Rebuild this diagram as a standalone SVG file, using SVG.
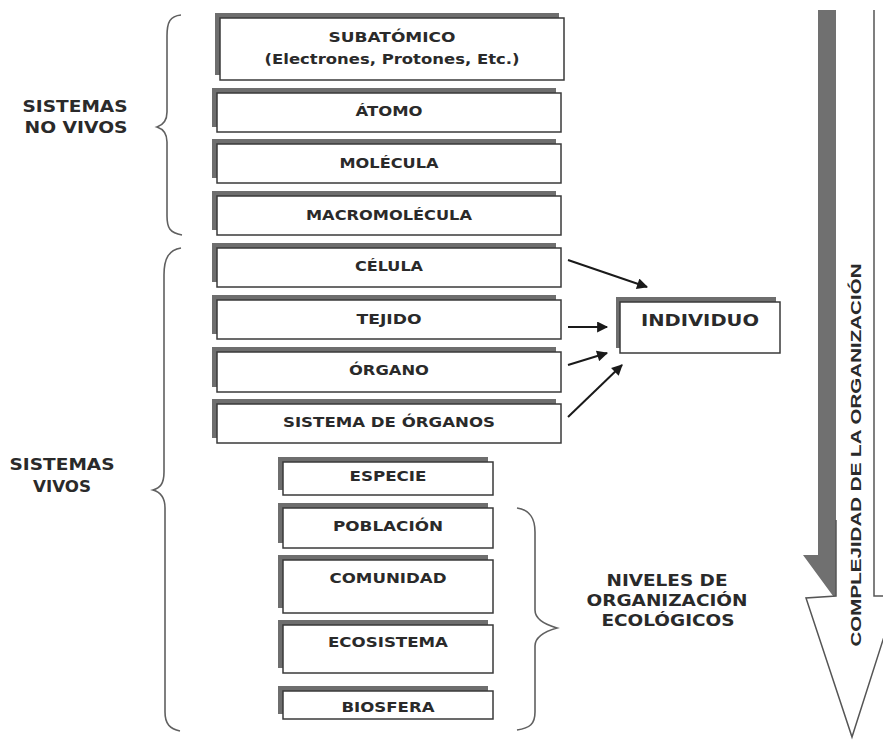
<svg xmlns="http://www.w3.org/2000/svg" width="883" height="741" viewBox="0 0 883 741">
<style>
.sh{fill:#6e6e6e}
.bx{fill:#fff;stroke:#3a3a3a;stroke-width:1.5}
.t{font-family:"DejaVu Sans",Verdana,sans-serif;font-weight:bold;font-size:13.5px;fill:#2a2a2a;text-anchor:middle;dominant-baseline:central}
.lb{font-family:"DejaVu Sans",Verdana,sans-serif;font-weight:bold;font-size:16px;fill:#2a2a2a;text-anchor:middle;dominant-baseline:central}
.br{fill:none;stroke:#606060;stroke-width:1.6}
.cn{stroke:#1a1a1a;stroke-width:2;fill:none}
</style>
<defs>
<marker id="ah" viewBox="0 0 10 10" refX="9" refY="5" markerWidth="6" markerHeight="5.5" orient="auto" markerUnits="strokeWidth">
<path d="M0,0 L10,5 L0,10 Z" fill="#1a1a1a"/>
</marker>
</defs>
<rect width="883" height="741" fill="#fff"/>

<g id="subatomico"><rect class="sh" x="215" y="13" width="344" height="62"/><rect class="bx" x="220" y="18" width="344" height="62"/><text class="t" x="392" y="37" textLength="127" lengthAdjust="spacingAndGlyphs">SUBATÓMICO</text><text class="t" x="392" y="59" textLength="255" lengthAdjust="spacingAndGlyphs">(Electrones, Protones, Etc.)</text></g>
<g id="atomo"><rect class="sh" x="212" y="88" width="344" height="39"/><rect class="bx" x="217" y="93" width="344" height="39"/><text class="t" x="389" y="111" textLength="67" lengthAdjust="spacingAndGlyphs">ÁTOMO</text></g>
<g id="molecula"><rect class="sh" x="212" y="139" width="344" height="39"/><rect class="bx" x="217" y="144" width="344" height="39"/><text class="t" x="389" y="163" textLength="99" lengthAdjust="spacingAndGlyphs">MOLÉCULA</text></g>
<g id="macromolecula"><rect class="sh" x="212" y="191" width="344" height="39"/><rect class="bx" x="217" y="196" width="344" height="39"/><text class="t" x="389" y="215" textLength="166" lengthAdjust="spacingAndGlyphs">MACROMOLÉCULA</text></g>
<g id="celula"><rect class="sh" x="212" y="243" width="344" height="39"/><rect class="bx" x="217" y="248" width="344" height="39"/><text class="t" x="389" y="266" textLength="68" lengthAdjust="spacingAndGlyphs">CÉLULA</text></g>
<g id="tejido"><rect class="sh" x="212" y="295" width="344" height="39"/><rect class="bx" x="217" y="300" width="344" height="39"/><text class="t" x="389" y="319" textLength="65" lengthAdjust="spacingAndGlyphs">TEJIDO</text></g>
<g id="organo"><rect class="sh" x="212" y="347" width="344" height="40"/><rect class="bx" x="217" y="352" width="344" height="40"/><text class="t" x="389" y="370" textLength="80" lengthAdjust="spacingAndGlyphs">ÓRGANO</text></g>
<g id="sistema-organos"><rect class="sh" x="212" y="399" width="344" height="39"/><rect class="bx" x="217" y="404" width="344" height="39"/><text class="t" x="389" y="422" textLength="212" lengthAdjust="spacingAndGlyphs">SISTEMA DE ÓRGANOS</text></g>
<g id="especie"><rect class="sh" x="278" y="457" width="210" height="33"/><rect class="bx" x="283" y="462" width="210" height="33"/><text class="t" x="388" y="476" textLength="77" lengthAdjust="spacingAndGlyphs">ESPECIE</text></g>
<g id="poblacion"><rect class="sh" x="278" y="503" width="210" height="40"/><rect class="bx" x="283" y="508" width="210" height="40"/><text class="t" x="388" y="526" textLength="110" lengthAdjust="spacingAndGlyphs">POBLACIÓN</text></g>
<g id="comunidad"><rect class="sh" x="278" y="555" width="210" height="53"/><rect class="bx" x="283" y="560" width="210" height="53"/><text class="t" x="388" y="578" textLength="117" lengthAdjust="spacingAndGlyphs">COMUNIDAD</text></g>
<g id="ecosistema"><rect class="sh" x="278" y="620" width="210" height="48"/><rect class="bx" x="283" y="625" width="210" height="48"/><text class="t" x="388" y="642" textLength="120" lengthAdjust="spacingAndGlyphs">ECOSISTEMA</text></g>
<g id="biosfera"><rect class="sh" x="278" y="686" width="210" height="28"/><rect class="bx" x="283" y="691" width="210" height="28"/><text class="t" x="388" y="707" textLength="93" lengthAdjust="spacingAndGlyphs">BIOSFERA</text></g>
<g id="individuo"><rect class="sh" x="616" y="297" width="160" height="51"/><rect class="bx" x="620" y="302" width="160" height="51"/><text class="lb" x="700" y="320" font-size="15" textLength="118" lengthAdjust="spacingAndGlyphs">INDIVIDUO</text></g>

<g id="connectors">
<line class="cn" x1="568" y1="260" x2="647" y2="287" marker-end="url(#ah)"/>
<line class="cn" x1="568" y1="327" x2="607" y2="327" marker-end="url(#ah)"/>
<line class="cn" x1="568" y1="365" x2="607" y2="353" marker-end="url(#ah)"/>
<line class="cn" x1="568" y1="417" x2="622" y2="365" marker-end="url(#ah)"/>
</g>

<g id="brace-no-vivos">
<path class="br" d="M181,15 C170,16 167,22 167,36 L167,112 C167,121 163,125 157,127 C163,129 167,133 167,142 L167,216 C167,228 170,233 182,235"/>
<text class="lb" x="75" y="106" font-size="17" textLength="105" lengthAdjust="spacingAndGlyphs">SISTEMAS</text>
<text class="lb" x="76" y="127" font-size="17" textLength="103" lengthAdjust="spacingAndGlyphs">NO VIVOS</text>
</g>
<g id="brace-vivos">
<path class="br" d="M181,248 C169,250 164,258 164,275 L164,472 C164,484 160,488 153,490 C160,492 165,497 165,508 L165,712 C165,724 170,729 180,731"/>
<text class="lb" x="62" y="464" font-size="17" textLength="105" lengthAdjust="spacingAndGlyphs">SISTEMAS</text>
<text class="lb" x="62" y="486" font-size="17" textLength="58" lengthAdjust="spacingAndGlyphs">VIVOS</text>
</g>
<g id="brace-ecologicos">
<path class="br" d="M517,508 C530,510 535,518 535,532 L535,610 C535,621 550,626 557,628 C550,630 535,635 535,646 L535,712 C535,724 530,728 517,730"/>
<text class="lb" x="667" y="580" textLength="121" lengthAdjust="spacingAndGlyphs">NIVELES DE</text>
<text class="lb" x="667" y="600" textLength="161" lengthAdjust="spacingAndGlyphs">ORGANIZACIÓN</text>
<text class="lb" x="668" y="620" textLength="133" lengthAdjust="spacingAndGlyphs">ECOLÓGICOS</text>
</g>

<g id="complexity-arrow">
<path d="M818,10 L836,10 L836,600 L803,555 L818,555 Z" fill="#707070"/>
<path d="M836,10 L874,10 L874,596 L897,596 L852,737 L806,598 L836,596 Z" fill="#fff"/>
<path d="M874,10 L874,596 L897,596 M836,520 L836,596 L806,598 L852,737 L897,596" fill="none" stroke="#555" stroke-width="1.5"/>
<text font-family="'Liberation Sans',Arial,sans-serif" font-weight="bold" font-size="15" fill="#2a2a2a" text-anchor="middle" dominant-baseline="central" transform="translate(855,455) rotate(-90)" textLength="383" lengthAdjust="spacingAndGlyphs">COMPLEJIDAD DE LA ORGANIZACIÓN</text>
</g>
</svg>
